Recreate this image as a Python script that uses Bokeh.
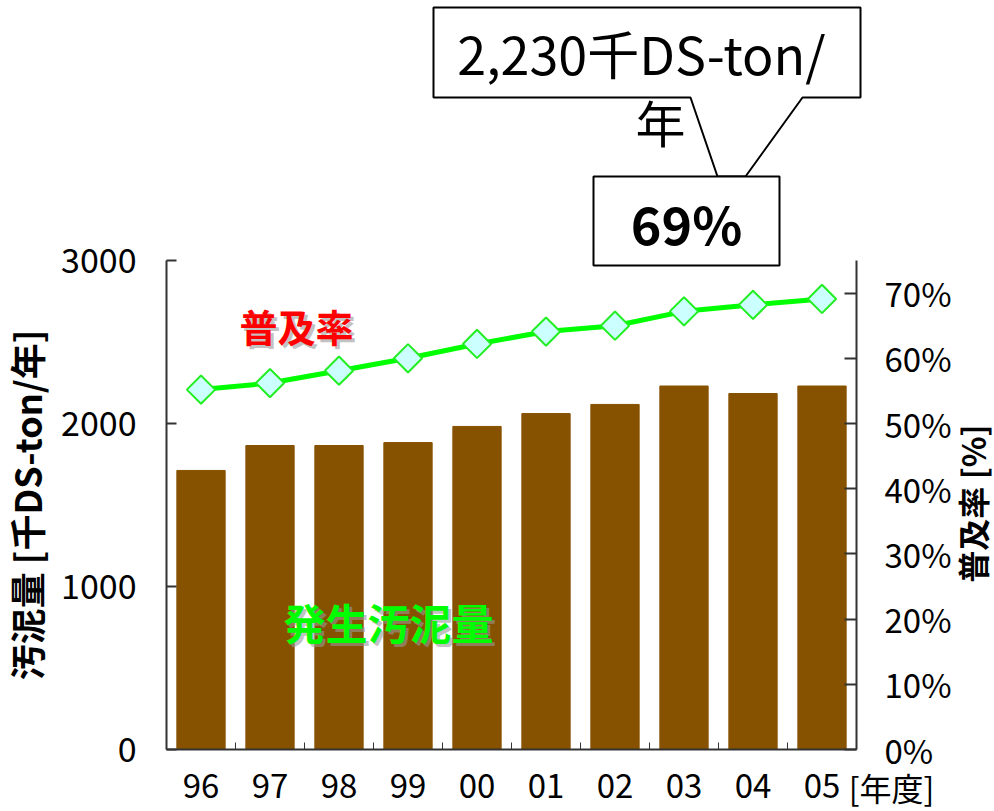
import numpy as np
from bokeh.plotting import figure
from bokeh.models import (Range1d, LinearAxis, FixedTicker, NumeralTickFormatter,
                          Label, PolyAnnotation, BoxAnnotation)
from bokeh.embed import file_html
from bokeh.resources import INLINE

# ---- data ----
years = ["96", "97", "98", "99", "00", "01", "02", "03", "04", "05"]
sludge = [1712, 1865, 1865, 1883, 1982, 2061, 2117, 2230, 2184, 2230]   # 千DS-ton/年
rate = [0.552, 0.562, 0.581, 0.600, 0.622, 0.641, 0.650, 0.672, 0.682, 0.691]  # 普及率
left_ticks = [0, 1000, 2000, 3000]
right_ticks = [0.0, 0.1, 0.2, 0.3, 0.4, 0.5, 0.6, 0.7]
left_max = 3000
right_max = 0.75

FONT = "Noto Sans CJK JP"
W, H = 994, 811
FL, FR, FT, FB = 166, 856, 260, 749  # plot area edges in px

n = len(years)
xs = [i + 0.5 for i in range(n)]

# frame spans the whole canvas; ranges chosen so the plot area sits at FL..FR, FT..FB
ux = (FR - FL) / n               # px per x unit
uy = (FB - FT) / left_max        # px per left-y unit
ur = (FB - FT) / right_max       # px per right-y unit
x_range = Range1d(-FL / ux, n + (W - FR) / ux)
y_range = Range1d(-(H - FB) / uy, left_max + FT / uy)
r_range = Range1d(-(H - FB) / ur, right_max + FT / ur)

p = figure(width=W, height=H, x_range=x_range, y_range=y_range,
           output_backend="svg", toolbar_location=None,
           min_border=0, min_border_left=0, min_border_right=0,
           min_border_top=0, min_border_bottom=0)
p.outline_line_color = None
p.grid.visible = False
p.background_fill_color = "white"
p.border_fill_color = "white"
p.extra_y_ranges = {"pct": r_range}

def dx(px):
    return (px - FL) / ux

def dy(py):
    return (FB - py) / uy

# bars
p.vbar(x=xs, top=sludge, width=0.7, color="#875200")

# line
p.line(xs, rate, y_range_name="pct", line_width=5, color="#00ff00")
p.scatter(xs, rate, y_range_name="pct", marker="square", angle=np.pi / 4, size=20,
          fill_color="#ccffff", line_color="#22ee22", line_width=2)

AX = "#333333"
# x axis
xa = p.xaxis[0]
xa.fixed_location = 0
xa.bounds = (0, n)
xa.ticker = FixedTicker(ticks=xs, minor_ticks=list(range(n + 1)))
xa.major_label_overrides = {x: y for x, y in zip(xs, years)}
xa.major_tick_line_color = None
xa.minor_tick_in = 7
xa.minor_tick_out = 0
xa.minor_tick_line_color = AX
xa.axis_line_color = AX
xa.axis_line_width = 2
xa.major_label_standoff = 18
xa.major_label_text_font = FONT
xa.major_label_text_font_size = "33px"
xa.major_label_text_color = "black"

# left axis
ya = p.yaxis[0]
ya.fixed_location = 0
ya.bounds = (0, left_max)
ya.ticker = FixedTicker(ticks=left_ticks)
ya.major_tick_in = 10
ya.major_tick_out = 0
ya.minor_tick_line_color = None
ya.axis_line_color = AX
ya.axis_line_width = 2
ya.major_tick_line_color = AX
ya.major_tick_line_width = 2
ya.major_label_standoff = 30
ya.major_label_text_font = FONT
ya.major_label_text_font_size = "34px"
ya.major_label_text_color = "black"
ya.axis_label = "汚泥量 [千DS-ton/年]"
ya.axis_label_text_font = FONT
ya.axis_label_text_font_size = "36px"
ya.axis_label_text_font_style = "bold"
ya.axis_label_text_color = "black"
ya.axis_label_standoff = 6

# right axis
ra = LinearAxis(y_range_name="pct", ticker=FixedTicker(ticks=right_ticks),
                formatter=NumeralTickFormatter(format="0%"))
ra.fixed_location = n
ra.bounds = (0, right_max)
ra.major_tick_in = 12
ra.major_tick_out = 0
ra.minor_tick_line_color = None
ra.axis_line_color = AX
ra.axis_line_width = 2
ra.major_tick_line_color = AX
ra.major_tick_line_width = 2
ra.major_label_standoff = 28
ra.major_label_text_font = FONT
ra.major_label_text_font_size = "33px"
ra.major_label_text_color = "black"
p.add_layout(ra, "right")

# right axis title (rotated, reads bottom to top)
p.add_layout(Label(x=dx(971), y=dy(503), text="普及率 [%]", angle=np.pi / 2,
                   text_align="center", text_baseline="middle", text_font=FONT,
                   text_font_size="32px", text_font_style="bold", text_color="black"))

# in-plot labels with soft shadow
def shadow_label(text, cx, cy, color, size):
    p.add_layout(Label(x=dx(cx), y=dy(cy), text=text, x_offset=3, y_offset=-3,
                       text_align="center", text_baseline="middle", text_font=FONT,
                       text_font_size=size, text_font_style="bold",
                       text_color="#999999", text_alpha=0.6))
    p.add_layout(Label(x=dx(cx), y=dy(cy), text=text,
                       text_align="center", text_baseline="middle", text_font=FONT,
                       text_font_size=size, text_font_style="bold", text_color=color))

shadow_label("普及率", 296, 325, "#ff0000", "38px")
shadow_label("発生汚泥量", 388, 621, "#00ff00", "42px")

# callout boxes
p.add_layout(PolyAnnotation(
    xs=[dx(433), dx(860), dx(860), dx(802), dx(745), dx(717), dx(690), dx(433)],
    ys=[dy(7), dy(7), dy(97), dy(97), dy(176), dy(176), dy(97), dy(97)],
    fill_color="white", fill_alpha=1, line_color="black", line_alpha=1, line_width=2))
p.add_layout(BoxAnnotation(left=dx(593), right=dx(779), top=dy(176), bottom=dy(265),
                           fill_color="white", fill_alpha=1, line_color="black",
                           line_alpha=1, line_width=2))

def plain_label(text, cx, cy, size, style="normal"):
    p.add_layout(Label(x=dx(cx), y=dy(cy), text=text, text_align="center",
                       text_baseline="middle", text_font=FONT, text_font_size=size,
                       text_font_style=style, text_color="black"))

plain_label(f"{sludge[-1]:,}千DS-ton/", 641, 52, "52px")
plain_label("年", 660, 120, "50px")
plain_label(f"{round(rate[-1]*100)}%", 686, 222, "52px", "bold")
plain_label("[年度]", 891, 786, "32px")

open("out.html", "w").write(file_html(p, INLINE))
